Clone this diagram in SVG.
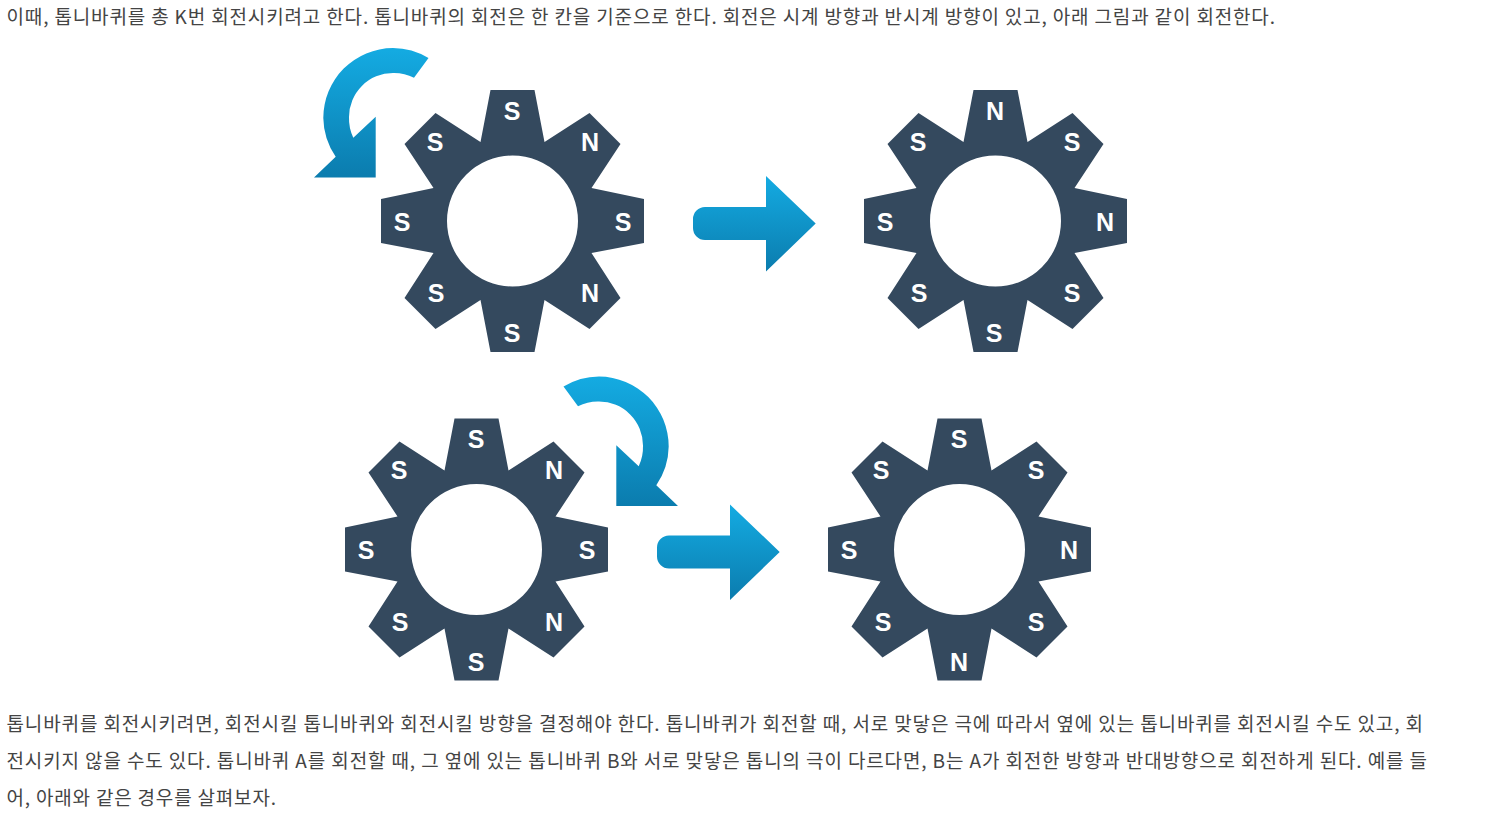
<svg xmlns="http://www.w3.org/2000/svg" xmlns:xlink="http://www.w3.org/1999/xlink" width="1486" height="814" viewBox="0 0 1486 814">
<style>
.p{font-family:"Noto Sans CJK KR","Noto Sans",sans-serif;font-size:19px;fill:#444}
.g{fill:#34495e;fill-rule:evenodd}
.l{font-family:"Liberation Sans",Arial,sans-serif;font-size:25px;font-weight:bold;fill:#fff;text-anchor:middle}
.a{fill:url(#blue)}
</style>
<defs>
<linearGradient id="blue" x1="0" y1="0" x2="0" y2="1"><stop offset="0" stop-color="#14abe2"/><stop offset="1" stop-color="#0b7cae"/></linearGradient>
<path id="gear" class="g" d="M-22-131H22L32-79L77-108L108-77L79-33L131.500-22V22L79 32L108 77L77 108L32 79L22 131H-22L-32 79L-77 108L-108 77L-79 32L-131.500 22V-22L-79-33L-108-77L-77-108L-32-79ZM65.500 0A65.500 65.500 0 1 0-65.500 0A65.500 65.500 0 1 0 65.500 0Z"/>
<path id="curve" class="a" d="M428.500 58A70 70 0 0 0 393 48A70 70 0 0 0 323.300 118A70 70 0 0 0 335.700 156.700L314 177.500H375.700V116.700L353.300 137.700A44.500 44.500 0 0 1 349 117A44 44 0 0 1 393 73A44 44 0 0 1 414 77.700Z"/>
<path id="straight" class="a" d="M705 207H766V176L815.700 223.500L766 271.500V240H705A12 12 0 0 1 693 228V219A12 12 0 0 1 705 207Z"/>
</defs>
<rect width="1486" height="814" fill="#fff"/>
<g id="text-top"><text class="p" x="6.500" y="24" textLength="1268.500">이때, 톱니바퀴를 총 K번 회전시키려고 한다. 톱니바퀴의 회전은 한 칸을 기준으로 한다. 회전은 시계 방향과 반시계 방향이 있고, 아래 그림과 같이 회전한다.</text></g>
<g id="gear-1"><use href="#gear" x="512.500" y="221"/>
<text class="l" x="512" y="120">S</text><text class="l" x="590" y="151">N</text><text class="l" x="623" y="231">S</text><text class="l" x="590" y="302">N</text><text class="l" x="512" y="342">S</text><text class="l" x="436" y="302">S</text><text class="l" x="402" y="231">S</text><text class="l" x="435" y="151">S</text></g>
<g id="gear-2"><use href="#gear" x="995.500" y="221"/>
<text class="l" x="995" y="120">N</text><text class="l" x="1072" y="151">S</text><text class="l" x="1105" y="231">N</text><text class="l" x="1072" y="302">S</text><text class="l" x="994" y="342">S</text><text class="l" x="919" y="302">S</text><text class="l" x="885" y="231">S</text><text class="l" x="918" y="151">S</text></g>
<g id="gear-3"><use href="#gear" x="476.500" y="549.500"/>
<text class="l" x="476" y="448">S</text><text class="l" x="554" y="479">N</text><text class="l" x="587" y="559">S</text><text class="l" x="554" y="631">N</text><text class="l" x="476" y="671">S</text><text class="l" x="400" y="631">S</text><text class="l" x="366" y="559">S</text><text class="l" x="399" y="479">S</text></g>
<g id="gear-4"><use href="#gear" x="959.500" y="549.500"/>
<text class="l" x="959" y="448">S</text><text class="l" x="1036" y="479">S</text><text class="l" x="1069" y="559">N</text><text class="l" x="1036" y="631">S</text><text class="l" x="959" y="671">N</text><text class="l" x="883" y="631">S</text><text class="l" x="849" y="559">S</text><text class="l" x="881" y="479">S</text></g>
<g id="connectors">
<use href="#curve"/>
<use href="#straight"/>
<use href="#curve" transform="translate(992 328.500) scale(-1 1)"/>
<use href="#straight" x="-36" y="328.500"/>
</g>
<g id="text-bottom">
<text class="p" x="6.500" y="731" textLength="1416.500">톱니바퀴를 회전시키려면, 회전시킬 톱니바퀴와 회전시킬 방향을 결정해야 한다. 톱니바퀴가 회전할 때, 서로 맞닿은 극에 따라서 옆에 있는 톱니바퀴를 회전시킬 수도 있고, 회</text>
<text class="p" x="6.500" y="768" textLength="1420.500">전시키지 않을 수도 있다. 톱니바퀴 A를 회전할 때, 그 옆에 있는 톱니바퀴 B와 서로 맞닿은 톱니의 극이 다르다면, B는 A가 회전한 방향과 반대방향으로 회전하게 된다. 예를 들</text>
<text class="p" x="6.500" y="805" textLength="269.500">어, 아래와 같은 경우를 살펴보자.</text>
</g>
</svg>
